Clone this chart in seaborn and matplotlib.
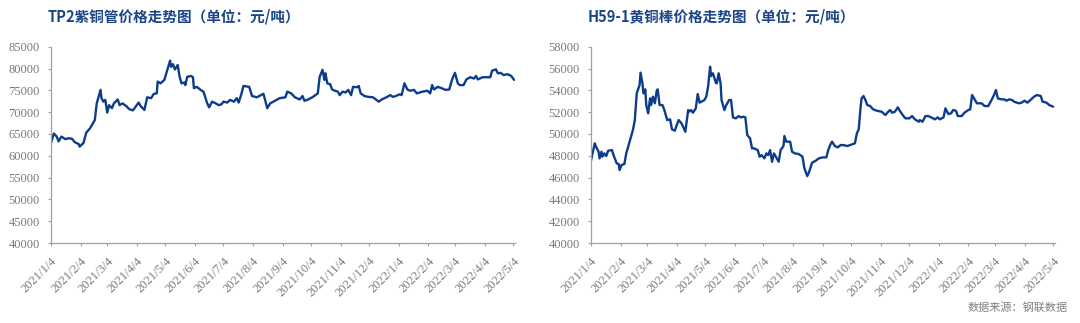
import matplotlib
matplotlib.use("Agg")
import matplotlib.pyplot as plt
import pandas as pd
import seaborn as sns

# ---------------- data ----------------
tp2_dates = [
    "2021-01-04", "2021-01-07", "2021-01-10", "2021-01-12", "2021-01-15", "2021-01-19", "2021-01-22",
    "2021-01-26", "2021-01-29", "2021-02-02", "2021-02-03", "2021-02-07", "2021-02-10", "2021-02-14",
    "2021-02-19", "2021-02-21", "2021-02-25", "2021-02-26", "2021-02-28", "2021-03-02", "2021-03-04",
    "2021-03-06", "2021-03-09", "2021-03-11", "2021-03-15", "2021-03-17", "2021-03-20", "2021-03-24",
    "2021-03-27", "2021-03-31", "2021-04-03", "2021-04-06", "2021-04-08", "2021-04-12", "2021-04-15",
    "2021-04-19", "2021-04-22", "2021-04-25", "2021-04-26", "2021-04-29", "2021-05-03", "2021-05-05",
    "2021-05-09", "2021-05-10", "2021-05-12", "2021-05-14", "2021-05-16", "2021-05-17", "2021-05-19",
    "2021-05-21", "2021-05-24", "2021-05-25", "2021-05-27", "2021-05-31", "2021-06-02", "2021-06-03",
    "2021-06-06", "2021-06-10", "2021-06-13", "2021-06-17", "2021-06-19", "2021-06-22", "2021-06-26",
    "2021-06-29", "2021-07-02", "2021-07-04", "2021-07-08", "2021-07-11", "2021-07-15", "2021-07-18",
    "2021-07-20", "2021-07-23", "2021-07-25", "2021-07-31", "2021-08-03", "2021-08-08", "2021-08-15",
    "2021-08-19", "2021-08-22", "2021-08-27", "2021-09-01", "2021-09-07", "2021-09-09", "2021-09-13",
    "2021-09-17", "2021-09-22", "2021-09-25", "2021-09-27", "2021-10-01", "2021-10-06", "2021-10-11",
    "2021-10-13", "2021-10-16", "2021-10-18", "2021-10-19", "2021-10-21", "2021-10-24", "2021-10-26",
    "2021-10-29", "2021-11-01", "2021-11-03", "2021-11-06", "2021-11-09", "2021-11-12", "2021-11-15",
    "2021-11-17", "2021-11-21", "2021-11-23", "2021-11-25", "2021-11-29", "2021-12-03", "2021-12-08",
    "2021-12-11", "2021-12-14", "2021-12-17", "2021-12-22", "2021-12-26", "2021-12-29", "2022-01-01",
    "2022-01-05", "2022-01-07", "2022-01-10", "2022-01-13", "2022-01-16", "2022-01-20", "2022-01-23",
    "2022-01-29", "2022-02-03", "2022-02-06", "2022-02-08", "2022-02-10", "2022-02-14", "2022-02-19",
    "2022-02-22", "2022-02-26", "2022-03-01", "2022-03-04", "2022-03-07", "2022-03-09", "2022-03-13",
    "2022-03-16", "2022-03-20", "2022-03-24", "2022-03-26", "2022-03-28", "2022-04-02", "2022-04-07",
    "2022-04-10", "2022-04-12", "2022-04-16", "2022-04-18", "2022-04-21", "2022-04-24", "2022-04-28",
    "2022-05-02", "2022-05-05",
]
tp2_prices = [
    62900, 65100, 64400, 63300, 64400, 63800, 64000,
    63900, 63100, 62700, 62100, 62900, 65300, 66300,
    68200, 72000, 75100, 73200, 72400, 72800, 69900,
    71600, 70900, 72000, 72900, 71600, 72000, 71400,
    70700, 70400, 71300, 72200, 71400, 70500, 73400,
    73200, 74200, 74300, 77000, 76600, 77400, 78900,
    81800, 80400, 81000, 79800, 80400, 80800, 78100,
    76600, 76800, 76200, 78100, 78300, 78000, 75500,
    75800, 75100, 74700, 72000, 71100, 72400, 72000,
    71600, 71800, 72400, 72200, 72800, 72400, 73200,
    72200, 74300, 76000, 75800, 73700, 73400, 74200,
    70900, 72000, 72600, 73200, 73400, 74700, 74300,
    73400, 72900, 73700, 72600, 72900, 73500, 74300,
    78100, 79700, 77400, 78900, 76600, 76400, 75200,
    74900, 74700, 73900, 74700, 74500, 75100, 73900,
    75800, 75700, 76000, 74300, 73700, 73500, 73400,
    72900, 72400, 72900, 73400, 73900, 73500, 73700,
    74100, 73900, 76600, 75200, 74900, 75100, 74300,
    74700, 74900, 74300, 76200, 75200, 75800, 75400,
    75100, 75200, 77500, 79000, 76600, 76200, 76200,
    77500, 78000, 77700, 78300, 77500, 78000, 78000,
    78000, 79500, 79800, 78900, 79000, 78500, 78700,
    78300, 77400,
]

h59_dates = [
    "2021-01-04", "2021-01-06", "2021-01-08", "2021-01-09", "2021-01-12", "2021-01-13", "2021-01-15",
    "2021-01-16", "2021-01-18", "2021-01-20", "2021-01-22", "2021-01-26", "2021-01-28", "2021-01-31",
    "2021-02-02", "2021-02-03", "2021-02-05", "2021-02-08", "2021-02-10", "2021-02-13", "2021-02-17",
    "2021-02-19", "2021-02-21", "2021-02-24", "2021-02-25", "2021-02-27", "2021-02-28", "2021-03-02",
    "2021-03-03", "2021-03-05", "2021-03-07", "2021-03-08", "2021-03-10", "2021-03-12", "2021-03-14",
    "2021-03-15", "2021-03-17", "2021-03-20", "2021-03-22", "2021-03-25", "2021-03-28", "2021-03-30",
    "2021-04-02", "2021-04-04", "2021-04-06", "2021-04-09", "2021-04-11", "2021-04-13", "2021-04-16",
    "2021-04-17", "2021-04-19", "2021-04-21", "2021-04-24", "2021-04-26", "2021-04-28", "2021-04-30",
    "2021-05-03", "2021-05-05", "2021-05-07", "2021-05-09", "2021-05-10", "2021-05-12", "2021-05-15",
    "2021-05-16", "2021-05-18", "2021-05-20", "2021-05-21", "2021-05-24", "2021-05-26", "2021-05-29",
    "2021-05-31", "2021-06-02", "2021-06-05", "2021-06-08", "2021-06-10", "2021-06-13", "2021-06-15",
    "2021-06-17", "2021-06-20", "2021-06-22", "2021-06-24", "2021-06-28", "2021-06-30", "2021-07-02",
    "2021-07-05", "2021-07-07", "2021-07-09", "2021-07-11", "2021-07-13", "2021-07-15", "2021-07-17",
    "2021-07-20", "2021-07-22", "2021-07-25", "2021-07-26", "2021-07-28", "2021-08-01", "2021-08-03",
    "2021-08-06", "2021-08-10", "2021-08-14", "2021-08-16", "2021-08-19", "2021-08-21", "2021-08-24",
    "2021-08-28", "2021-08-31", "2021-09-04", "2021-09-08", "2021-09-10", "2021-09-12", "2021-09-14",
    "2021-09-17", "2021-09-20", "2021-09-23", "2021-09-26", "2021-09-30", "2021-10-03", "2021-10-08",
    "2021-10-10", "2021-10-12", "2021-10-14", "2021-10-15", "2021-10-17", "2021-10-19", "2021-10-21",
    "2021-10-24", "2021-10-27", "2021-10-31", "2021-11-05", "2021-11-09", "2021-11-12", "2021-11-14",
    "2021-11-16", "2021-11-19", "2021-11-22", "2021-11-24", "2021-11-28", "2021-11-30", "2021-12-04",
    "2021-12-07", "2021-12-10", "2021-12-14", "2021-12-15", "2021-12-18", "2021-12-21", "2021-12-24",
    "2021-12-27", "2021-12-31", "2022-01-03", "2022-01-05", "2022-01-09", "2022-01-11", "2022-01-14",
    "2022-01-17", "2022-01-19", "2022-01-22", "2022-01-24", "2022-01-28", "2022-01-31", "2022-02-04",
    "2022-02-06", "2022-02-08", "2022-02-11", "2022-02-13", "2022-02-18", "2022-02-21", "2022-02-25",
    "2022-02-28", "2022-03-03", "2022-03-05", "2022-03-07", "2022-03-11", "2022-03-14", "2022-03-16",
    "2022-03-19", "2022-03-22", "2022-03-24", "2022-03-29", "2022-04-01", "2022-04-04", "2022-04-07",
    "2022-04-11", "2022-04-14", "2022-04-17", "2022-04-21", "2022-04-23", "2022-04-27", "2022-04-30",
    "2022-05-04",
]
h59_prices = [
    47550, 48370, 49140, 48890, 48370, 47760, 48370,
    47910, 48220, 47970, 48460, 48520, 47970, 47300,
    47240, 46690, 47150, 47240, 48220, 49140, 50360,
    51270, 53720, 54490, 55620, 54640, 53720, 54090,
    52650, 51890, 53260, 52650, 53420, 52810, 53970,
    54090, 52650, 52650, 52190, 51270, 51340, 50420,
    50300, 50820, 51270, 50970, 50600, 50200, 52190,
    52040, 52190, 51950, 52350, 53660, 52870, 52960,
    53110, 53420, 54390, 56170, 55310, 55560, 54700,
    54640, 55560, 54640, 53110, 52190, 52650, 53110,
    53110, 51520, 51430, 51640, 51520, 51580, 51520,
    49900, 49590, 48680, 48680, 48520, 47910, 48060,
    47760, 48220, 48060, 48520, 47450, 48220, 47910,
    47450, 48520, 48890, 49810, 49290, 49290, 48370,
    48220, 48160, 47910, 46840, 46140, 46540, 47360,
    47550, 47760, 47850, 47850, 48520, 48980, 49290,
    48890, 48770, 48980, 48980, 48890, 48980, 49140,
    50050, 50420, 52500, 53260, 53480, 53110, 52650,
    52560, 52260, 52130, 52040, 51740, 52040, 52190,
    51950, 52040, 52440, 52130, 51640, 51430, 51430,
    51640, 51340, 51120, 51270, 51120, 51640, 51640,
    51520, 51340, 51520, 51340, 51520, 52350, 51830,
    51890, 52190, 52130, 51640, 51640, 51950, 52190,
    52260, 53570, 53110, 52810, 52810, 52560, 52560,
    53050, 53570, 54030, 53260, 53170, 53170, 53050,
    53170, 53110, 52960, 52810, 52870, 53050, 52870,
    53170, 53420, 53570, 53480, 52960, 52870, 52650,
    52500,
]

tp2_title = "TP2紫铜管价格走势图（单位：元/吨）"
h59_title = "H59-1黄铜棒价格走势图（单位：元/吨）"
source_text = "数据来源：钢联数据"
tp2_yticks = [40000, 45000, 50000, 55000, 60000, 65000, 70000, 75000, 80000, 85000]
h59_yticks = [40000, 42000, 44000, 46000, 48000, 50000, 52000, 54000, 56000, 58000]
tick_dates = pd.date_range("2021-01-04", "2022-05-04", freq=pd.DateOffset(months=1))
tick_labels = [f"{d.year}/{d.month}/{d.day}" for d in tick_dates]

# ---------------- style ----------------
sns.set_style("white")
plt.rcParams["font.family"] = ["Noto Sans CJK SC", "DejaVu Sans"]

LINE = "#0b3d8c"
TITLE = "#1c4587"
AXIS = "#a0a0a0"
TXT = "#7a7a7a"

fig = plt.figure(figsize=(10.8, 3.23), dpi=100)
W, H = 1080, 323
ax1 = fig.add_axes([51 / W, 80 / H, 464 / W, 196.3 / H])
ax2 = fig.add_axes([591 / W, 80 / H, 464 / W, 196.3 / H])

df1 = pd.DataFrame({"date": pd.to_datetime(tp2_dates), "price": tp2_prices})
df2 = pd.DataFrame({"date": pd.to_datetime(h59_dates), "price": h59_prices})

for ax, df, yt in [(ax1, df1, tp2_yticks), (ax2, df2, h59_yticks)]:
    sns.lineplot(data=df, x="date", y="price", ax=ax, color=LINE, linewidth=1.7)
    ax.set_xlim(pd.Timestamp("2021-01-04"), pd.Timestamp("2022-05-06"))
    ax.set_ylim(yt[0], yt[-1])
    ax.set_yticks(yt)
    ax.set_yticklabels([str(v) for v in yt])
    ax.set_xticks(tick_dates)
    ax.set_xticklabels(tick_labels, rotation=45, ha="right", rotation_mode="anchor")
    for lab in ax.get_xticklabels() + ax.get_yticklabels():
        lab.set_fontfamily("Liberation Serif")
        lab.set_fontsize(9)
        lab.set_color(TXT)
    ax.set_xlabel("")
    ax.set_ylabel("")
    for s in ["top", "right"]:
        ax.spines[s].set_visible(False)
    for s in ["left", "bottom"]:
        ax.spines[s].set_color(AXIS)
        ax.spines[s].set_linewidth(0.9)
    ax.tick_params(axis="both", which="major", direction="out", length=2.5, width=0.8,
                   color=AXIS, left=True, bottom=True)
    ax.tick_params(axis="y", pad=5.5)
    ax.tick_params(axis="x", pad=6)
    ax.grid(False)

fig.text(48 / W, 1 - 17 / H, tp2_title, fontsize=10.5, fontweight="bold", color=TITLE,
         ha="left", va="center")
fig.text(588 / W, 1 - 17 / H, h59_title, fontsize=10.5, fontweight="bold", color=TITLE,
         ha="left", va="center")
fig.text(1068 / W, 1 - 308 / H, source_text, fontsize=8, color="#808080",
         ha="right", va="center")

fig.savefig("out.png", dpi=100)
